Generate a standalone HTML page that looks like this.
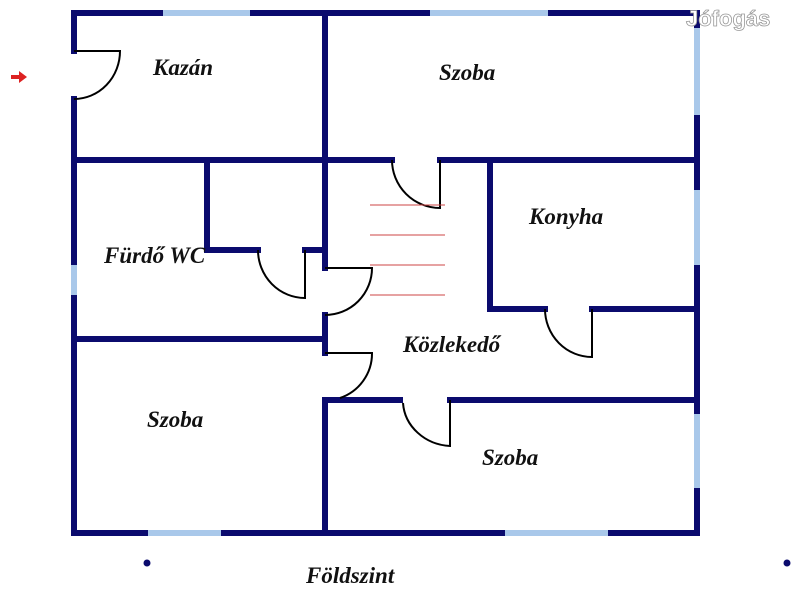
<!DOCTYPE html>
<html><head><style>
html,body{margin:0;padding:0;background:#fff;width:800px;height:600px;overflow:hidden}
text{font-family:"Liberation Serif",serif;font-weight:bold;font-style:italic;font-size:23px;fill:#111}
</style></head><body>
<svg width="800" height="600" viewBox="0 0 800 600" xmlns="http://www.w3.org/2000/svg">
<g stroke="#0b0b6e" stroke-width="6" fill="none" stroke-linecap="square">
<line x1="74" y1="13" x2="697" y2="13"/>
<line x1="74" y1="13" x2="74" y2="51"/>
<line x1="74" y1="99" x2="74" y2="533"/>
<line x1="74" y1="533" x2="697" y2="533"/>
<line x1="697" y1="13" x2="697" y2="533"/>
<line x1="74" y1="160" x2="392" y2="160"/>
<line x1="440" y1="160" x2="697" y2="160"/>
<line x1="325" y1="13" x2="325" y2="268"/>
<line x1="325" y1="315" x2="325" y2="353"/>
<line x1="325" y1="405" x2="325" y2="533"/>
<line x1="207" y1="160" x2="207" y2="250"/>
<line x1="207" y1="250" x2="258" y2="250"/>
<line x1="305" y1="250" x2="325" y2="250"/>
<line x1="74" y1="339" x2="325" y2="339"/>
<line x1="490" y1="160" x2="490" y2="309"/>
<line x1="490" y1="309" x2="545" y2="309"/>
<line x1="592" y1="309" x2="697" y2="309"/>
<line x1="325" y1="400" x2="400" y2="400"/>
<line x1="450" y1="400" x2="697" y2="400"/>
</g>
<g stroke="#a9c8ea" stroke-width="6">
<line x1="163" y1="13" x2="250" y2="13"/>
<line x1="430" y1="13" x2="548" y2="13"/>
<line x1="148" y1="533" x2="221" y2="533"/>
<line x1="505" y1="533" x2="608" y2="533"/>
<line x1="74" y1="265" x2="74" y2="295"/>
<line x1="697" y1="28" x2="697" y2="115"/>
<line x1="697" y1="190" x2="697" y2="265"/>
<line x1="697" y1="414" x2="697" y2="488"/>
</g>
<g stroke="#000" stroke-width="2" fill="none">
<path d="M74 51 H120 A46 48 0 0 1 74 99"/>
<path d="M440 160 V208 A48 48 0 0 1 392 160"/>
<path d="M592 309 V357 A47 48 0 0 1 545 309"/>
<path d="M305 250 V298 A47 48 0 0 1 258 250"/>
<path d="M325 268 H372 A47 47 0 0 1 325 315"/>
<path d="M325 353 H372 A47 47 0 0 1 340 398"/>
<path d="M450 400 V446 A50 46 0 0 1 403 403"/>
</g>
<g stroke="#c44" stroke-width="1">
<line x1="370" y1="205" x2="445" y2="205"/>
<line x1="370" y1="235" x2="445" y2="235"/>
<line x1="370" y1="265" x2="445" y2="265"/>
<line x1="370" y1="295" x2="445" y2="295"/>
</g>
<circle cx="147" cy="563" r="3.5" fill="#0b0b6e"/>
<circle cx="787" cy="563" r="3.5" fill="#0b0b6e"/>
<path d="M11 75 H19 V71 L27 77 L19 83 V79 H11 Z" fill="#d22"/>
<text x="153" y="75">Kazán</text>
<text x="439" y="80">Szoba</text>
<text x="104" y="263">Fürdő WC</text>
<text x="529" y="224">Konyha</text>
<text x="403" y="352">Közlekedő</text>
<text x="147" y="427">Szoba</text>
<text x="482" y="465">Szoba</text>
<text x="306" y="583">Földszint</text>
<text x="686" y="26" style="font-family:'Liberation Sans',sans-serif;font-style:normal;font-size:22px;fill:#fff;stroke:#999;stroke-width:0.8">Jófogás</text>
</svg>
</body></html>
